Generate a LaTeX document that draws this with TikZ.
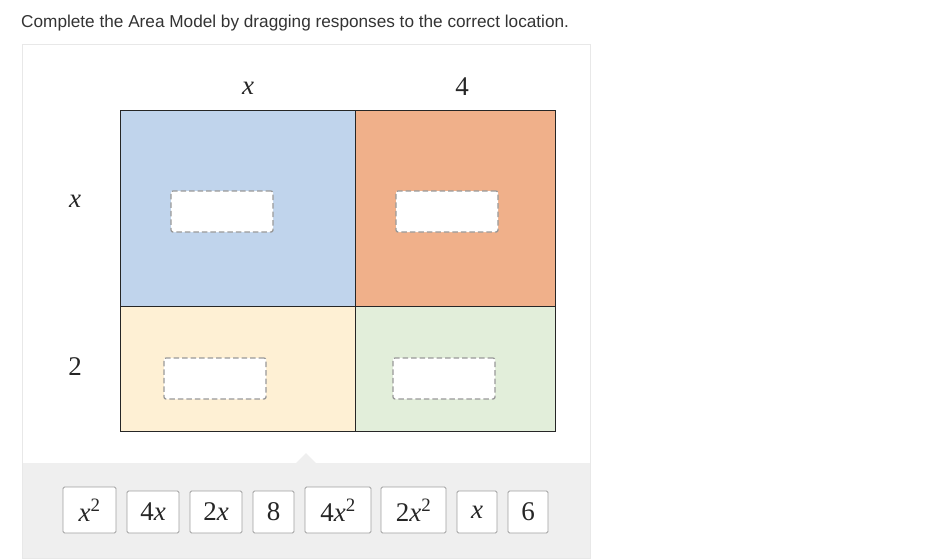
\RequirePackage{fix-cm}
\documentclass[tikz,border=0pt]{standalone}
\usepackage{fontspec}
\newfontfamily\titlefont{Liberation Sans}
\newfontfamily\termfont{Liberation Serif}
\usetikzlibrary{positioning}

\definecolor{cellblue}{RGB}{192,212,236}
\definecolor{cellorange}{RGB}{240,176,138}
\definecolor{cellyellow}{RGB}{254,240,212}
\definecolor{cellgreen}{RGB}{226,238,218}
\definecolor{traygray}{RGB}{239,239,239}

\newcommand{\var}[1]{\textit{#1}}
\newcommand{\sq}{\textsuperscript{2}}

\begin{document}
\begin{tikzpicture}[
        x=1pt, y=-1pt,
        cell/.style={draw=black!85, line width=0.8pt, anchor=north west, inner sep=0pt},
        slot/.style={draw=gray!80, dashed, dash pattern=on 5.5pt off 3pt, fill=white, rounded corners=2pt, minimum width=102pt, minimum height=41pt, line width=1.3pt},
        side/.style={font=\termfont\fontsize{27}{30}\selectfont, text=black!85},
        tile/.style={draw=gray!75, fill=white, rounded corners=1.5pt, minimum width=40pt, minimum height=42pt, inner xsep=10pt, outer sep=0pt, anchor=south west, font=\termfont\fontsize{27}{30}\selectfont, text=black!85, line width=0.8pt},
        tall/.style={minimum height=46pt}
    ]
        \useasboundingbox (0,0) rectangle (937,558);

        % Title
        \node[anchor=base west, inner sep=0pt, font=\titlefont\fontsize{17.2}{20}\selectfont, text=black!80] (title) at (21,27) {Complete the Area Model by dragging responses to the correct location.};

        % Panel and tray
        \draw[gray!18, fill=white] (22,44) rectangle (590,558);
        \fill[traygray] (22.5,463) rectangle (589.5,557.5);
        \fill[traygray] (296,463) -- (306,453) -- (316,463) -- cycle;

        % Area model cells
        \node[cell, fill=cellblue, minimum width=235pt, minimum height=196pt] (xx) at (120,110) {};
        \node[cell, fill=cellorange, minimum width=200pt, minimum height=196pt] (xfour) at (355,110) {};
        \node[cell, fill=cellyellow, minimum width=235pt, minimum height=125pt] (twox) at (120,306) {};
        \node[cell, fill=cellgreen, minimum width=200pt, minimum height=125pt] (twofour) at (355,306) {};

        % Side labels
        \node[side] (topx) at (248,88) {\var{x}};
        \node[side] (topfour) at (462,87) {4};
        \node[side] (leftx) at (75,201) {\var{x}};
        \node[side] (lefttwo) at (75,367) {2};

        % Drop slots
        \node[slot] (slotxx) at (222,211.5) {};
        \node[slot] (slotxfour) at (447,211.5) {};
        \node[slot] (slottwox) at (215,378.5) {};
        \node[slot] (slottwofour) at (444,378.5) {};

        % Response tiles
        \node[tile, tall, minimum width=53pt] (txsq) at (63,533) {\var{x}\sq};
        \node[tile, minimum width=52pt, right=11pt of txsq.south east, anchor=south west] (tfourx) {4\var{x}};
        \node[tile, minimum width=52pt, right=11pt of tfourx.south east, anchor=south west] (ttwox) {2\var{x}};
        \node[tile, minimum width=41pt, right=11pt of ttwox.south east, anchor=south west] (teight) {8};
        \node[tile, tall, minimum width=66pt, right=11pt of teight.south east, anchor=south west] (tfourxsq) {4\var{x}\sq};
        \node[tile, tall, minimum width=65pt, right=10pt of tfourxsq.south east, anchor=south west] (ttwoxsq) {2\var{x}\sq};
        \node[tile, right=11pt of ttwoxsq.south east, anchor=south west] (tx) {\var{x}};
        \node[tile, right=11pt of tx.south east, anchor=south west] (tsix) {6};
    \end{tikzpicture}
\end{document}
